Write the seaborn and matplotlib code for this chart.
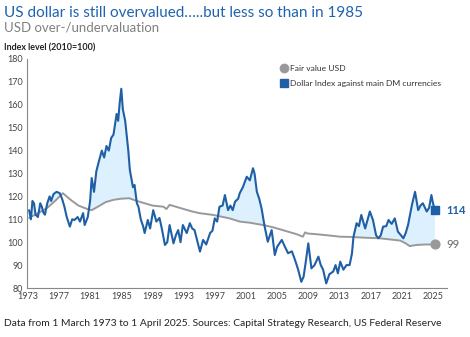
import numpy as np
import pandas as pd
import matplotlib
matplotlib.use("Agg")
import matplotlib.pyplot as plt
from matplotlib.lines import Line2D
import seaborn as sns

# ---------------- data ----------------
dollar_year = [1973.17, 1973.4, 1973.6, 1973.8, 1974.0, 1974.3, 1974.6, 1974.8, 1975.0, 1975.2,
               1975.5, 1975.8, 1976.0, 1976.3, 1976.7, 1977.1, 1977.4, 1977.7, 1978.0, 1978.4,
               1978.7, 1979.0, 1979.4, 1979.7, 1980.1, 1980.3, 1980.7, 1981.0, 1981.2, 1981.5,
               1981.8, 1982.1, 1982.5, 1982.8, 1983.1, 1983.4, 1983.7, 1984.0, 1984.4, 1984.6,
               1984.8, 1985.0, 1985.2, 1985.5, 1985.9, 1986.1, 1986.5, 1986.7, 1987.0, 1987.2,
               1987.5, 1987.8, 1988.0, 1988.4, 1988.7, 1989.1, 1989.5, 1989.9, 1990.2, 1990.6,
               1990.9, 1991.2, 1991.7, 1992.0, 1992.3, 1992.6, 1992.9, 1993.4, 1993.8, 1994.1,
               1994.4, 1994.8, 1995.1, 1995.5, 1995.9, 1996.4, 1996.7, 1997.0, 1997.3, 1997.6,
               1998.0, 1998.3, 1998.7, 1999.0, 1999.3, 1999.6, 2000.0, 2000.2, 2000.6, 2001.1,
               2001.5, 2001.9, 2002.1, 2002.4, 2002.7, 2003.0, 2003.4, 2003.8, 2004.3, 2004.7,
               2005.0, 2005.6, 2006.0, 2006.4, 2006.9, 2007.3, 2007.7, 2008.1, 2008.4, 2008.7,
               2009.0, 2009.4, 2009.8, 2010.3, 2010.6, 2010.9, 2011.3, 2011.7, 2012.2, 2012.5,
               2012.8, 2013.1, 2013.5, 2013.9, 2014.3, 2014.6, 2014.8, 2015.2, 2015.5, 2015.8,
               2016.3, 2016.9, 2017.3, 2017.7, 2018.0, 2018.3, 2018.6, 2019.0, 2019.3, 2019.7,
               2020.1, 2020.5, 2020.9, 2021.2, 2021.5, 2021.8, 2022.3, 2022.7, 2023.1, 2023.4,
               2023.7, 2024.2, 2024.5, 2024.8, 2025.0, 2025.25]
dollar_value = [114, 110, 118, 117, 112, 111, 117, 115.5, 113, 112,
                117, 120, 118, 121, 122, 121.4, 119, 115.5, 111, 106.8,
                110, 109.7, 111, 109, 112.7, 107.5, 111, 118, 128, 122,
                131, 135, 140, 137, 142, 140, 145.5, 147, 156, 153,
                161, 167, 158, 153, 140, 131.5, 124, 125, 117, 115.5,
                110, 107, 104, 109.7, 106, 114, 109, 110.6, 106, 98.8,
                100, 107.5, 99.5, 103, 105.3, 100, 107.5, 104, 108.3, 106,
                105.3, 100, 95.9, 101, 99, 104, 105, 110.4, 109, 115.5,
                116, 120.6, 114, 116, 114, 117.7, 119, 121.4, 124, 128.6,
                127, 132.3, 130, 122, 119, 114.8, 106.8, 100.2, 105.3, 94.4,
                98, 101, 98, 95.2, 96, 92.2, 88, 82.7, 85, 92,
                99.5, 88.6, 90, 93.7, 90, 88, 82, 86, 87.2, 90,
                86.4, 91.5, 88, 90, 90, 95, 102.4, 108.3, 107, 111.9,
                106, 113.4, 109.7, 103, 101.7, 103, 106.8, 107, 109.7, 108,
                110.4, 104.6, 103, 101.7, 104, 107.5, 116.3, 122, 114, 116,
                117, 113.4, 115, 120.6, 117, 114]

fair_year = [1973.17, 1974.5, 1975.5, 1976.5, 1977.5, 1978.5, 1979.5, 1980.7, 1981.2, 1982.0,
             1983.0, 1984.0, 1985.0, 1986.0, 1987.0, 1988.0, 1989.0, 1990.4, 1990.8, 1991.2,
             1992.0, 1993.0, 1994.0, 1995.0, 1996.8, 1998.9, 2000.2, 2001.5, 2003.2, 2004.5,
             2006.0, 2007.5, 2008.3, 2008.6, 2008.9, 2010.0, 2011.5, 2013.1, 2014.5, 2016.0,
             2018.2, 2019.5, 2020.8, 2021.5, 2022.0, 2022.9, 2024.0, 2025.25]
fair_value = [110.6, 113, 115, 118, 121.4, 118.5, 116, 114.4, 114, 115.5,
              117.5, 118.5, 119, 119.2, 118, 117, 116, 115.5, 114.5, 116.3,
              115.5, 114.5, 113.5, 112.7, 111.9, 110.4, 109, 108.5, 107.5, 106.5,
              105, 103.5, 102.4, 104.3, 103.8, 103.5, 103, 102.4, 102.3, 102,
              101.7, 101.2, 100.7, 99.5, 98.3, 98.8, 99, 99]

y_ticks = [80, 90, 100, 110, 120, 130, 140, 150, 160, 170, 180]
x_ticks = [1973, 1977, 1981, 1985, 1989, 1993, 1997, 2001, 2005, 2009, 2013, 2017, 2021, 2025]

title = "US dollar is still overvalued\u2026..but less so than in 1985"
subtitle = "USD over-/undervaluation"
y_label = "Index level (2010=100)"
footer = "Data from 1 March 1973 to 1 April 2025. Sources: Capital Strategy Research, US Federal Reserve"
label_fair = "Fair value USD"
label_dollar = "Dollar Index against main DM currencies"

# ---------------- style ----------------
BLUE = "#1f5fa6"
FILL = "#dcf1fd"
GREY = "#999999"
TITLE_BLUE = "#1f63ad"

sns.set_style("white")
plt.rcParams["font.family"] = ["Lato", "DejaVu Sans"]

fig = plt.figure(figsize=(4.70, 3.37), dpi=100)
ax = fig.add_axes([27 / 470, 1 - 288 / 337, (447 - 27) / 470, (288 - 59) / 337])

df_d = pd.DataFrame({"year": dollar_year, "value": dollar_value})
df_f = pd.DataFrame({"year": fair_year, "value": fair_value})

dy = np.array(dollar_year)
dv = np.array(dollar_value)
fv_on_d = np.interp(dy, np.array(fair_year), np.array(fair_value))
ax.fill_between(dy, fv_on_d, dv, where=dv > fv_on_d, interpolate=True,
                color=FILL, linewidth=0, zorder=1)

sns.lineplot(data=df_f, x="year", y="value", ax=ax, color=GREY, linewidth=1.4, zorder=2)
sns.lineplot(data=df_d, x="year", y="value", ax=ax, color=BLUE, linewidth=1.5, zorder=3)

# end markers
ax.scatter([dollar_year[-1]], [dollar_value[-1]], marker="s", s=38, color=BLUE, zorder=4)
ax.scatter([fair_year[-1]], [fair_value[-1]], marker="o", s=40, color=GREY, zorder=4)
ax.annotate(f"{dollar_value[-1]:.0f}", (dollar_year[-1], dollar_value[-1]), xytext=(8, 0),
            textcoords="offset points", va="center", ha="left", color=BLUE, fontsize=8,
            fontweight="bold")
ax.annotate(f"{fair_value[-1]:.0f}", (fair_year[-1], fair_value[-1]), xytext=(8, 0),
            textcoords="offset points", va="center", ha="left", color="#666666", fontsize=8)

ax.set_xlim(1972.9, 2026.8)
ax.set_ylim(80, 180)
ax.set_yticks(y_ticks)
ax.set_xticks(x_ticks)
ax.tick_params(axis="both", labelsize=6.5, colors="#444444", length=0, pad=3)
ax.set_xlabel("")
ax.set_ylabel("")
for s in ["top", "right"]:
    ax.spines[s].set_visible(False)
for s in ["left", "bottom"]:
    ax.spines[s].set_color("#888888")
    ax.spines[s].set_linewidth(0.8)

# legend
handles = [Line2D([], [], linestyle="none", marker="o", markersize=6, color=GREY),
           Line2D([], [], linestyle="none", marker="s", markersize=6, color=BLUE)]
fig.legend(handles, [label_fair, label_dollar], loc="upper left",
           bbox_to_anchor=(276 / 470, 1 - 62 / 337), frameon=False, fontsize=6.1,
           handletextpad=0.1, labelspacing=0.95, handlelength=1.2, borderaxespad=0,
           labelcolor="#333333")

# texts
fig.text(4 / 470, 1 - 13 / 337, title, fontsize=11.0, color=TITLE_BLUE, va="center", ha="left",
         fontweight="normal")
fig.text(4 / 470, 1 - 28 / 337, subtitle, fontsize=9.5, color="#808080", va="center", ha="left")
fig.text(4 / 470, 1 - 48 / 337, y_label, fontsize=6.4, color="#222222", fontweight="bold",
         va="center", ha="left")
fig.text(4 / 470, 1 - 323 / 337, footer, fontsize=7.4, color="#222222", va="center", ha="left")

fig.savefig("out.png", dpi=100)
